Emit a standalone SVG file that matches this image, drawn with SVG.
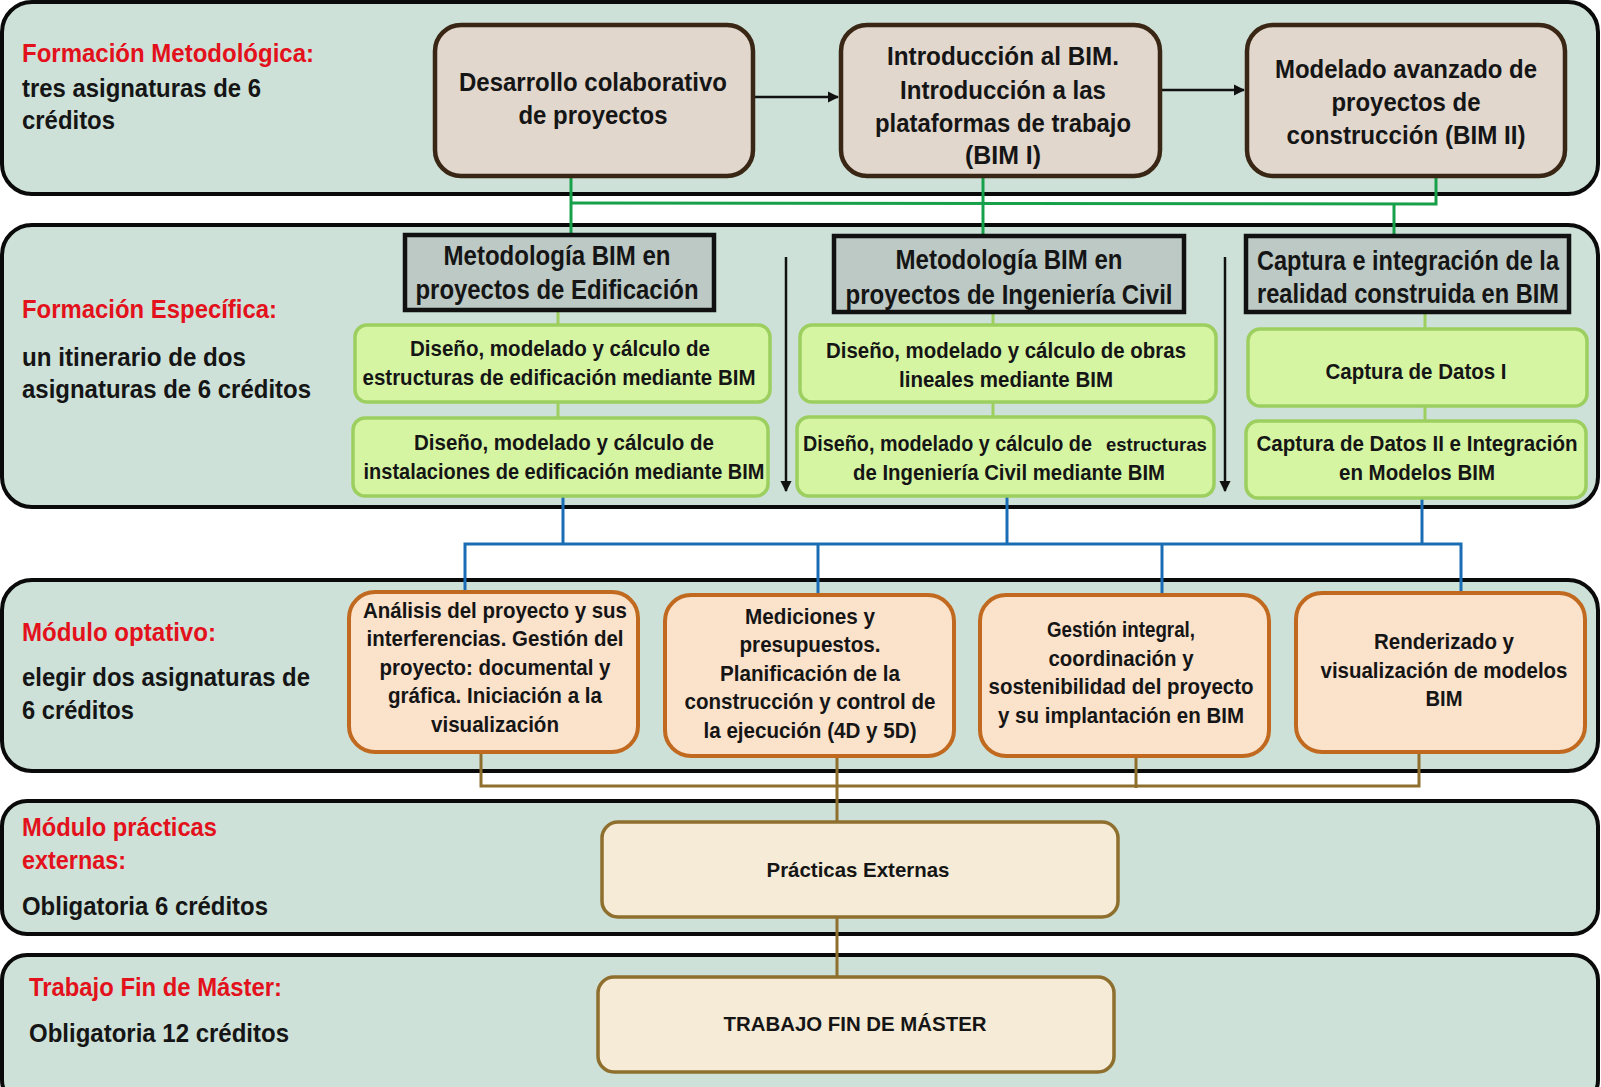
<svg xmlns="http://www.w3.org/2000/svg" width="1601" height="1087" viewBox="0 0 1601 1087">
<defs>
<style>
text{font-family:"Liberation Sans",Arial,sans-serif;font-weight:bold;fill:#151515;}
.band{fill:#cde1d8;stroke:#0a0a0a;stroke-width:4;}
.lbl{font-size:26px;}
.red{fill:#e3111b;}
.brown{fill:#e1d7cd;stroke:#3a2614;stroke-width:4.5;}
.hdr{fill:#bcc9c4;stroke:#111;stroke-width:4.5;}
.grn{fill:#d6f5a3;stroke:#9ccf5f;stroke-width:3.5;}
.org{fill:#fae2cb;stroke:#c0691f;stroke-width:4;}
.crm{fill:#f6ebd6;stroke:#8e6f2d;stroke-width:3.5;}
.t26{font-size:26px;text-anchor:middle;}
.t27{font-size:27px;text-anchor:middle;}
.t22{font-size:22px;text-anchor:middle;}
.t21{font-size:21px;text-anchor:middle;}
.cg{stroke:#17a04a;stroke-width:3;fill:none;}
.cl{stroke:#9ccf5f;stroke-width:3;fill:none;}
.cb{stroke:#1a6db5;stroke-width:3;fill:none;}
.cn{stroke:#8e6f2d;stroke-width:3;fill:none;}
.ck{stroke:#111;stroke-width:2.5;fill:none;}
</style>
<marker id="ah" viewBox="0 0 10 10" refX="9" refY="5" markerWidth="4.5" markerHeight="4.5" orient="auto"><path d="M0,0 L10,5 L0,10 z" fill="#111"/></marker>
</defs>

<g id="bands">
<rect class="band" x="2" y="2" width="1596" height="192" rx="30"/>
<rect class="band" x="2" y="225" width="1596" height="282" rx="30"/>
<rect class="band" x="2" y="580" width="1596" height="191" rx="30"/>
<rect class="band" x="2" y="801" width="1596" height="133" rx="25"/>
<rect class="band" x="2" y="955" width="1596" height="150" rx="25"/>
</g>

<g id="labels">
<text class="lbl red" x="22" y="62" textLength="292" lengthAdjust="spacingAndGlyphs">Formación Metodológica:</text>
<text class="lbl" x="22" y="97" textLength="239" lengthAdjust="spacingAndGlyphs">tres asignaturas de 6</text>
<text class="lbl" x="22" y="129" textLength="93" lengthAdjust="spacingAndGlyphs">créditos</text>
<text class="lbl red" x="22" y="318" textLength="255" lengthAdjust="spacingAndGlyphs">Formación Específica:</text>
<text class="lbl" x="22" y="366" textLength="224" lengthAdjust="spacingAndGlyphs">un itinerario de dos</text>
<text class="lbl" x="22" y="398" textLength="289" lengthAdjust="spacingAndGlyphs">asignaturas de 6 créditos</text>
<text class="lbl red" x="22" y="641" textLength="194" lengthAdjust="spacingAndGlyphs">Módulo optativo:</text>
<text class="lbl" x="22" y="686" textLength="288" lengthAdjust="spacingAndGlyphs">elegir dos asignaturas de</text>
<text class="lbl" x="22" y="719" textLength="112" lengthAdjust="spacingAndGlyphs">6 créditos</text>
<text class="lbl red" x="22" y="836" textLength="195" lengthAdjust="spacingAndGlyphs">Módulo prácticas</text>
<text class="lbl red" x="22" y="869" textLength="104" lengthAdjust="spacingAndGlyphs">externas:</text>
<text class="lbl" x="22" y="915" textLength="246" lengthAdjust="spacingAndGlyphs">Obligatoria 6 créditos</text>
<text class="lbl red" x="29" y="996" textLength="253" lengthAdjust="spacingAndGlyphs">Trabajo Fin de Máster:</text>
<text class="lbl" x="29" y="1042" textLength="260" lengthAdjust="spacingAndGlyphs">Obligatoria 12 créditos</text>
</g>

<g id="connectors">
<line class="ck" x1="753" y1="97" x2="838" y2="97" marker-end="url(#ah)"/>
<line class="ck" x1="1160" y1="90" x2="1244" y2="90" marker-end="url(#ah)"/>
<polyline class="cg" points="571,176 571,236"/>
<polyline class="cg" points="571,203 1436,204 1436,176"/>
<polyline class="cg" points="983,176 983,236"/>
<polyline class="cg" points="1394,204 1394,236"/>
<line class="cl" x1="558" y1="310" x2="558" y2="325"/>
<line class="cl" x1="558" y1="402" x2="558" y2="418"/>
<line class="cl" x1="993" y1="312" x2="993" y2="325"/>
<line class="cl" x1="993" y1="402" x2="993" y2="417"/>
<line class="cl" x1="1425" y1="312" x2="1425" y2="329"/>
<line class="cl" x1="1425" y1="406" x2="1425" y2="421"/>
<line class="ck" x1="786" y1="257" x2="786" y2="491" marker-end="url(#ah)"/>
<line class="ck" x1="1225" y1="257" x2="1225" y2="491" marker-end="url(#ah)"/>
<polyline class="cb" points="563,496 563,544"/>
<polyline class="cb" points="1007,496 1007,544"/>
<polyline class="cb" points="1422,498 1422,544"/>
<polyline class="cb" points="465,592 465,544 1461,544 1461,593"/>
<line class="cb" x1="818" y1="544" x2="818" y2="595"/>
<line class="cb" x1="1162" y1="544" x2="1162" y2="595"/>
<polyline class="cn" points="481,752 481,786 1419,786 1419,752"/>
<line class="cn" x1="837" y1="756" x2="837" y2="822"/>
<line class="cn" x1="1136" y1="756" x2="1136" y2="788"/>
<line class="cn" x1="837" y1="917" x2="837" y2="977"/>
</g>

<g id="n-desarrollo">
<rect class="brown" x="435" y="25" width="318" height="151" rx="26"/>
<text class="t26" x="593" y="91" textLength="268" lengthAdjust="spacingAndGlyphs">Desarrollo colaborativo</text>
<text class="t26" x="593" y="124" textLength="149" lengthAdjust="spacingAndGlyphs">de proyectos</text>
</g>
<g id="n-bim1">
<rect class="brown" x="841" y="25" width="319" height="151" rx="26"/>
<text class="t26" x="1003" y="65" textLength="232" lengthAdjust="spacingAndGlyphs">Introducción al BIM.</text>
<text class="t26" x="1003" y="99" textLength="206" lengthAdjust="spacingAndGlyphs">Introducción a las</text>
<text class="t26" x="1003" y="132" textLength="256" lengthAdjust="spacingAndGlyphs">plataformas de trabajo</text>
<text class="t26" x="1003" y="164" textLength="76" lengthAdjust="spacingAndGlyphs">(BIM I)</text>
</g>
<g id="n-bim2">
<rect class="brown" x="1247" y="25" width="318" height="151" rx="26"/>
<text class="t26" x="1406" y="78" textLength="262" lengthAdjust="spacingAndGlyphs">Modelado avanzado de</text>
<text class="t26" x="1406" y="111" textLength="149" lengthAdjust="spacingAndGlyphs">proyectos de</text>
<text class="t26" x="1406" y="144" textLength="239" lengthAdjust="spacingAndGlyphs">construcción (BIM II)</text>
</g>

<g id="h-edif">
<rect class="hdr" x="405" y="235" width="309" height="75"/>
<text class="t27" x="557" y="265" textLength="227" lengthAdjust="spacingAndGlyphs">Metodología BIM en</text>
<text class="t27" x="557" y="299" textLength="283" lengthAdjust="spacingAndGlyphs">proyectos de Edificación</text>
</g>
<g id="h-civil">
<rect class="hdr" x="834" y="236" width="350" height="76"/>
<text class="t27" x="1009" y="269" textLength="227" lengthAdjust="spacingAndGlyphs">Metodología BIM en</text>
<text class="t27" x="1009" y="304" textLength="327" lengthAdjust="spacingAndGlyphs">proyectos de Ingeniería Civil</text>
</g>
<g id="h-captura">
<rect class="hdr" x="1246" y="236" width="323" height="76"/>
<text class="t27" x="1408" y="270" textLength="302" lengthAdjust="spacingAndGlyphs">Captura e integración de la</text>
<text class="t27" x="1408" y="303" textLength="302" lengthAdjust="spacingAndGlyphs">realidad construida en BIM</text>
</g>

<g id="g-estructuras">
<rect class="grn" x="355" y="325" width="415" height="77" rx="12"/>
<text class="t22" x="560" y="356" textLength="300" lengthAdjust="spacingAndGlyphs">Diseño, modelado y cálculo de</text>
<text class="t22" x="559" y="385" textLength="393" lengthAdjust="spacingAndGlyphs">estructuras de edificación mediante BIM</text>
</g>
<g id="g-instalaciones">
<rect class="grn" x="353" y="418" width="415" height="78" rx="12"/>
<text class="t22" x="564" y="450" textLength="300" lengthAdjust="spacingAndGlyphs">Diseño, modelado y cálculo de</text>
<text class="t22" x="564" y="479" textLength="401" lengthAdjust="spacingAndGlyphs">instalaciones de edificación mediante BIM</text>
</g>
<g id="g-obras">
<rect class="grn" x="800" y="325" width="416" height="77" rx="12"/>
<text class="t22" x="1006" y="358" textLength="360" lengthAdjust="spacingAndGlyphs">Diseño, modelado y cálculo de obras</text>
<text class="t22" x="1006" y="387" textLength="214" lengthAdjust="spacingAndGlyphs">lineales mediante BIM</text>
</g>
<g id="g-estr-civil">
<rect class="grn" x="797" y="417" width="417" height="79" rx="12"/>
<text transform="translate(803,451) scale(0.9,1)" x="0" y="0" font-size="22" textLength="321" lengthAdjust="spacingAndGlyphs">Diseño, modelado y cálculo de</text>
<text transform="translate(1106,451) scale(0.97,1)" x="0" y="0" font-size="19" textLength="104" lengthAdjust="spacingAndGlyphs">estructuras</text>
<text class="t22" x="1009" y="480" textLength="312" lengthAdjust="spacingAndGlyphs">de Ingeniería Civil mediante BIM</text>
</g>
<g id="g-datos1">
<rect class="grn" x="1248" y="329" width="339" height="77" rx="12"/>
<text class="t22" x="1416" y="379" textLength="181" lengthAdjust="spacingAndGlyphs">Captura de Datos I</text>
</g>
<g id="g-datos2">
<rect class="grn" x="1246" y="421" width="340" height="77" rx="12"/>
<text class="t22" x="1417" y="451" textLength="321" lengthAdjust="spacingAndGlyphs">Captura de Datos II e Integración</text>
<text class="t22" x="1417" y="480" textLength="156" lengthAdjust="spacingAndGlyphs">en Modelos BIM</text>
</g>

<g id="o-analisis">
<rect class="org" x="349" y="592" width="289" height="160" rx="26"/>
<text class="t22" x="495" y="618" textLength="264" lengthAdjust="spacingAndGlyphs">Análisis del proyecto y sus</text>
<text class="t22" x="495" y="646" textLength="257" lengthAdjust="spacingAndGlyphs">interferencias. Gestión del</text>
<text class="t22" x="495" y="675" textLength="231" lengthAdjust="spacingAndGlyphs">proyecto: documental y</text>
<text class="t22" x="495" y="703" textLength="214" lengthAdjust="spacingAndGlyphs">gráfica. Iniciación a la</text>
<text class="t22" x="495" y="732" textLength="128" lengthAdjust="spacingAndGlyphs">visualización</text>
</g>
<g id="o-mediciones">
<rect class="org" x="665" y="595" width="289" height="161" rx="26"/>
<text class="t22" x="810" y="624" textLength="130" lengthAdjust="spacingAndGlyphs">Mediciones y</text>
<text class="t22" x="810" y="652" textLength="141" lengthAdjust="spacingAndGlyphs">presupuestos.</text>
<text class="t22" x="810" y="681" textLength="180" lengthAdjust="spacingAndGlyphs">Planificación de la</text>
<text class="t22" x="810" y="709" textLength="251" lengthAdjust="spacingAndGlyphs">construcción y control de</text>
<text class="t22" x="810" y="738" textLength="213" lengthAdjust="spacingAndGlyphs">la ejecución (4D y 5D)</text>
</g>
<g id="o-gestion">
<rect class="org" x="980" y="595" width="289" height="161" rx="26"/>
<text class="t22" x="1121" y="637" textLength="148" lengthAdjust="spacingAndGlyphs">Gestión integral,</text>
<text class="t22" x="1121" y="666" textLength="145" lengthAdjust="spacingAndGlyphs">coordinación y</text>
<text class="t22" x="1121" y="694" textLength="265" lengthAdjust="spacingAndGlyphs">sostenibilidad del proyecto</text>
<text class="t22" x="1121" y="723" textLength="246" lengthAdjust="spacingAndGlyphs">y su implantación en BIM</text>
</g>
<g id="o-render">
<rect class="org" x="1296" y="593" width="289" height="159" rx="26"/>
<text class="t22" x="1444" y="649" textLength="140" lengthAdjust="spacingAndGlyphs">Renderizado y</text>
<text class="t22" x="1444" y="678" textLength="247" lengthAdjust="spacingAndGlyphs">visualización de modelos</text>
<text class="t22" x="1444" y="706" textLength="37" lengthAdjust="spacingAndGlyphs">BIM</text>
</g>

<g id="n-practicas">
<rect class="crm" x="602" y="822" width="516" height="95" rx="16"/>
<text class="t21" x="858" y="877" textLength="183" lengthAdjust="spacingAndGlyphs">Prácticas Externas</text>
</g>
<g id="n-tfm">
<rect class="crm" x="598" y="977" width="516" height="95" rx="16"/>
<text class="t21" x="855" y="1031" textLength="263" lengthAdjust="spacingAndGlyphs">TRABAJO FIN DE MÁSTER</text>
</g>
</svg>
